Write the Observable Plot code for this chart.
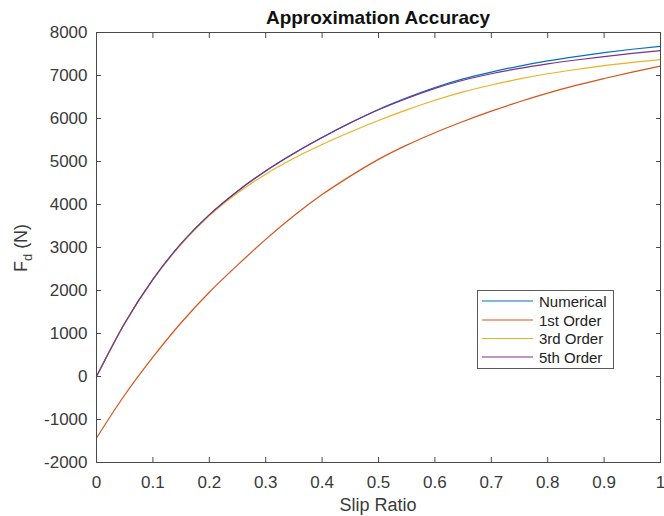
<!DOCTYPE html>
<html>
<head>
<meta charset="utf-8">
<script src="https://cdn.jsdelivr.net/npm/d3@7"></script>
<script src="https://cdn.jsdelivr.net/npm/@observablehq/plot@0.6"></script>
<style>
  html, body { margin: 0; padding: 0; background: #fff; }
  #chart { width: 664px; height: 516px; }
</style>
</head>
<body>
<div id="chart"></div>
<script>
// ---- data ----
const slip = [0, 0.05, 0.1, 0.15, 0.2, 0.25, 0.3, 0.35, 0.4, 0.45, 0.5,
              0.55, 0.6, 0.65, 0.7, 0.75, 0.8, 0.85, 0.9, 0.95, 1.0];
const numerical = [0, 1240, 2260, 3090, 3760, 4310, 4780, 5190, 5560, 5900, 6210,
                   6480, 6720, 6920, 7080, 7220, 7340, 7440, 7530, 7610, 7680];
const firstOrder = [-1430, -430, 450, 1250, 1960, 2590, 3190, 3740, 4230, 4660, 5050,
                    5380, 5670, 5930, 6170, 6390, 6590, 6770, 6930, 7080, 7220];
const thirdOrder = [0, 1235, 2250, 3075, 3735, 4265, 4705, 5075, 5395, 5685, 5955,
                    6200, 6425, 6620, 6780, 6920, 7040, 7140, 7230, 7305, 7370];
const fifthOrder = [0, 1240, 2260, 3090, 3760, 4310, 4780, 5188, 5556, 5894, 6202,
                    6465, 6700, 6890, 7040, 7165, 7270, 7360, 7440, 7515, 7580];
const seriesNames = ["Numerical", "1st Order", "3rd Order", "5th Order"];
const seriesColors = ["#0072BD", "#D95319", "#EDB120", "#7E2F8E"];
const xTicks = [0, 0.1, 0.2, 0.3, 0.4, 0.5, 0.6, 0.7, 0.8, 0.9, 1];
const yTicks = [-2000, -1000, 0, 1000, 2000, 3000, 4000, 5000, 6000, 7000, 8000];
const titleText = "Approximation Accuracy";
const xLabelText = "Slip Ratio";

// ---- table for Plot ----
const seriesValues = [numerical, firstOrder, thirdOrder, fifthOrder];
const rows = [];
seriesValues.forEach((vals, k) => {
  vals.forEach((v, i) => rows.push({ s: slip[i], f: v, series: seriesNames[k] }));
});

const axisColor = "#4a4a4a";
const textColor = "#3a3a3a";
const fontFamily = "'Liberation Sans', Arial, Helvetica, sans-serif";
const xFmt = d => (d === 0 ? "0" : d === 1 ? "1" : d3.format(".1f")(d));

const chart = Plot.plot({
  width: 664,
  height: 516,
  marginLeft: 96,
  marginRight: 4,
  marginTop: 32,
  marginBottom: 54,
  style: { fontFamily, fontSize: "17px", color: textColor, background: "white", overflow: "visible" },
  x: { domain: [0, 1], label: null },
  y: { domain: [-2000, 8000], label: null },
  color: { domain: seriesNames, range: seriesColors },
  marks: [
    Plot.line(rows, { x: "s", y: "f", z: "series", stroke: "series", strokeWidth: 1.2, curve: "monotone-x" }),
    Plot.frame({ stroke: axisColor, strokeWidth: 1 }),
    Plot.axisX({ anchor: "bottom", ticks: xTicks, tickSize: -5, tickPadding: 18, tickFormat: xFmt,
                 label: null, stroke: axisColor, fill: textColor }),
    Plot.axisX({ anchor: "top", ticks: xTicks, tickSize: -5, tickFormat: () => "", label: null, stroke: axisColor }),
    Plot.axisY({ anchor: "left", ticks: yTicks, tickSize: -5, tickPadding: 14, tickFormat: d => String(d),
                 label: null, stroke: axisColor, fill: textColor }),
    Plot.axisY({ anchor: "right", ticks: yTicks, tickSize: -5, tickFormat: () => "", label: null, stroke: axisColor })
  ]
});

document.getElementById("chart").appendChild(chart);

// ---- title, axis labels and legend (text kept as real SVG text) ----
const svg = d3.select(chart);
const cx = (96 + 660) / 2;

svg.append("text")
  .attr("x", cx).attr("y", 24)
  .attr("text-anchor", "middle")
  .attr("font-family", fontFamily).attr("font-size", 19).attr("font-weight", "bold")
  .attr("fill", "#111")
  .text(titleText);

svg.append("text")
  .attr("x", cx).attr("y", 511)
  .attr("text-anchor", "middle")
  .attr("font-family", fontFamily).attr("font-size", 18)
  .attr("fill", textColor)
  .text(xLabelText);

const yl = svg.append("text")
  .attr("transform", "translate(27,248) rotate(-90)")
  .attr("text-anchor", "middle")
  .attr("font-family", fontFamily).attr("font-size", 18)
  .attr("fill", textColor);
yl.append("tspan").text("F");
yl.append("tspan").attr("dy", 5).attr("font-size", 13).text("d");
yl.append("tspan").attr("dy", -5).text(" (N)");

const legend = svg.append("g");
legend.append("rect")
  .attr("x", 477.5).attr("y", 290.5).attr("width", 136).attr("height", 78)
  .attr("fill", "white").attr("stroke", "#5a5a5a").attr("stroke-width", 1);
const rowY = [301, 320, 338.5, 357];
seriesNames.forEach((name, i) => {
  legend.append("line")
    .attr("x1", 482).attr("x2", 533).attr("y1", rowY[i]).attr("y2", rowY[i])
    .attr("stroke", seriesColors[i]).attr("stroke-width", 1.2);
  legend.append("text")
    .attr("x", 539).attr("y", rowY[i] + 5.5)
    .attr("text-anchor", "start")
    .attr("font-family", fontFamily).attr("font-size", 15)
    .attr("fill", "#222")
    .text(name);
});
</script>
</body>
</html>
